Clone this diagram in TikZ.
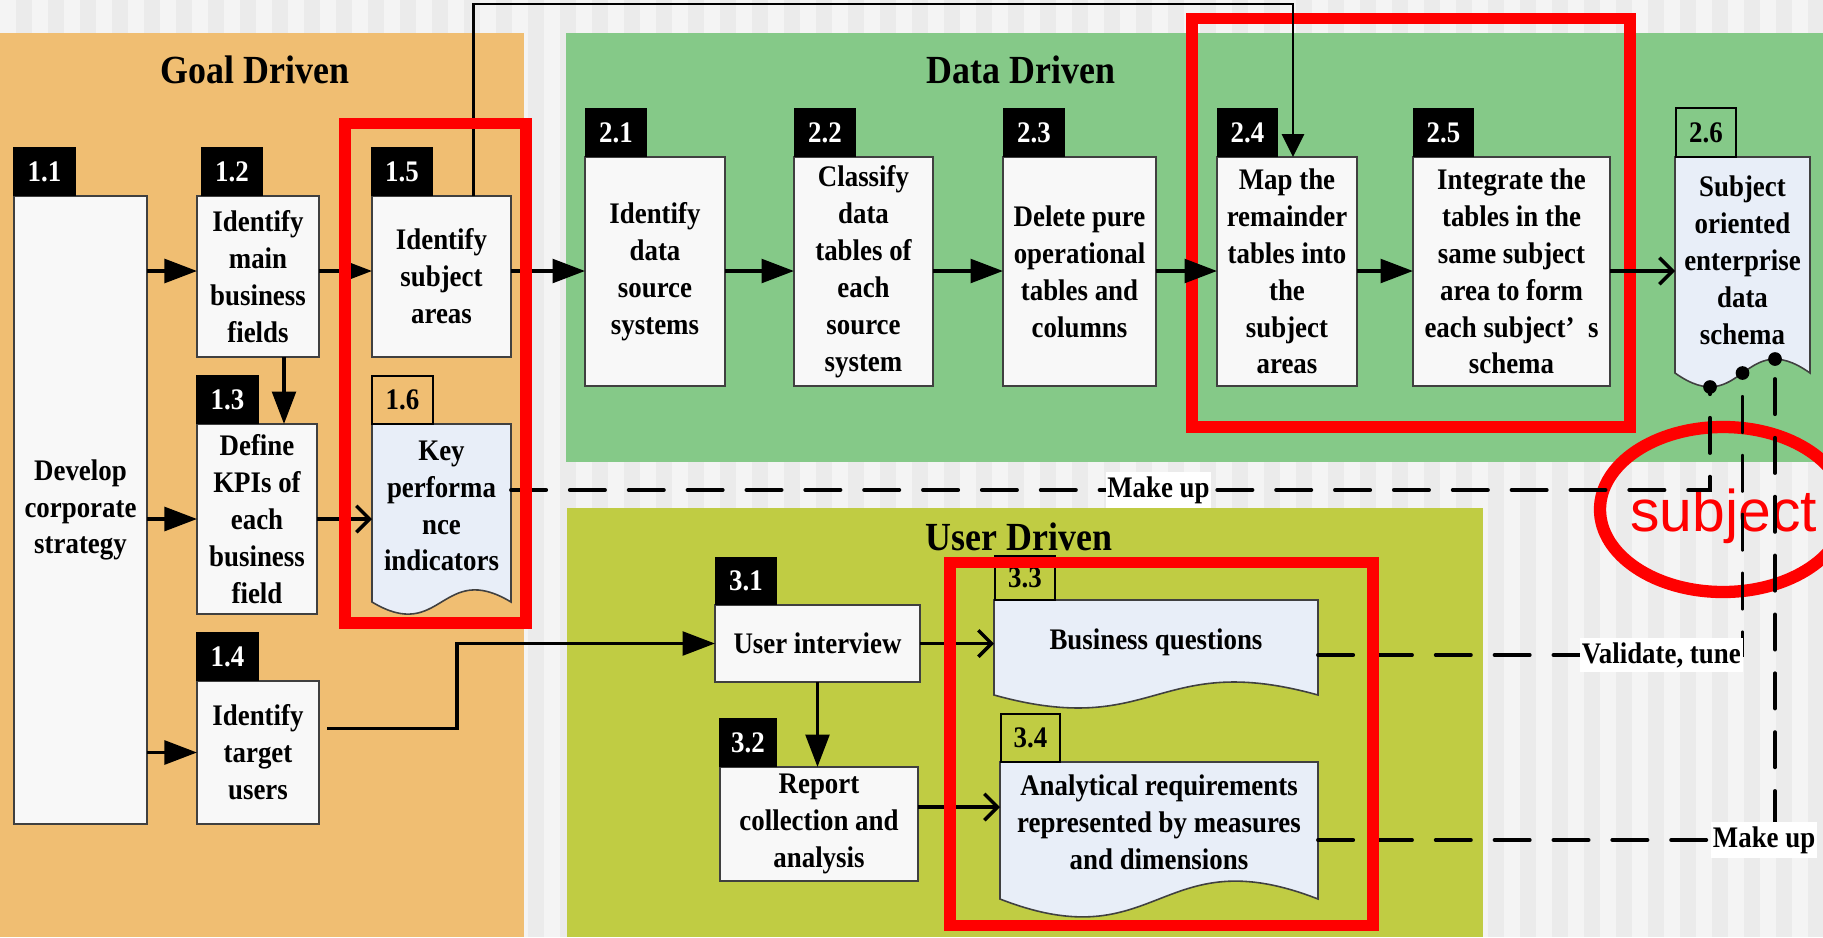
\documentclass[tikz,border=0pt]{standalone}
\usepackage{fontspec}
\setmainfont{Liberation Serif}[FakeStretch=0.9]
\newfontfamily\notefont{Liberation Sans}
\usetikzlibrary{arrows.meta,calc}
\pgfdeclarelayer{panels}
\pgfdeclarelayer{docs}
\pgfsetlayers{panels,docs,main}

\definecolor{goalbg}{HTML}{F0BE72}
\definecolor{databg}{HTML}{85C988}
\definecolor{userbg}{HTML}{C0CC43}
\definecolor{docbg}{HTML}{E8EEF8}
\definecolor{boxbg}{HTML}{F8F8F8}
\definecolor{stripeA}{HTML}{F4F4F4}
\definecolor{stripeB}{HTML}{EBEBEB}
\definecolor{markred}{HTML}{FF0000}

% document symbol: flat top, wavy bottom hanging #2 below the node, wave strength #3
\newcommand\docoutline[3]{%
  \begin{pgfonlayer}{docs}
    \filldraw[docfill] (#1.north west) -- (#1.north east) -- ($(#1.south east)+(0,#2)$)
      .. controls ($(#1.south)+(0,#2-#3)$) and ($(#1.south)+(0,#2+#3)$) ..
      ($(#1.south west)+(0,#2)$) -- cycle;
  \end{pgfonlayer}}

\tikzset{
  % node covering the pixel box left/top/right/bottom
  span/.style n args={4}{minimum width={(#3-#1)*0.02cm}, minimum height={(#4-#2)*0.02cm},
                         at={({(#1+#3)/2},{(#2+#4)/2})}, anchor=center},
  txt/.style={font=\fontsize{17}{21}\selectfont\bfseries, align=center, inner sep=0pt, outer sep=0pt},
  procbox/.style={txt, draw=black!75, line width=0.9pt, fill=boxbg},
  docnode/.style={txt},
  docfill/.style={draw=black!75, line width=0.9pt, fill=docbg},
  numtag/.style={txt, fill=black, text=white},
  numframe/.style={txt, draw=black, line width=1.3pt},
  paneltitle/.style={font=\fontsize{22.7}{27}\selectfont\bfseries, inner sep=0pt},
  flow/.style={line width=2pt, -{Triangle[length=18.5pt,width=13.5pt]}},
  flowopen/.style={line width=2pt, -{Straight Barb[length=7.5pt,width=15pt]}},
  thinflow/.style={line width=1.4pt, -{Triangle[length=13pt,width=12.5pt]}},
  dashline/.style={line width=2.2pt, line cap=round, dash pattern=on 20pt off 13.5pt},
  notelbl/.style={txt, fill=white, inner xsep=1pt, inner ysep=2.5pt},
  redmark/.style={draw=markred, line width=6.8pt},
}

\begin{document}
\begin{tikzpicture}[x=0.02cm,y=-0.02cm]
\useasboundingbox (0,0) rectangle (1823,937);

% ---- background and the three swim panels
\begin{pgfonlayer}{panels}
  \fill[stripeA] (0,0) rectangle (1823,937);
  \foreach \i in {0,...,56} \fill[stripeB] ({32*\i+16},0) rectangle ++(16,937);
  \fill[goalbg] (0,33) rectangle (524,937);
  \fill[databg] (566,33) rectangle (1823,462);
  \fill[userbg] (567,508) rectangle (1483,937);
\end{pgfonlayer}

\node[paneltitle] (tgoal) at (255,70) {Goal Driven};
\node[paneltitle] (tdata) at (1021,70) {Data Driven};
\node[paneltitle] (tuser) at (1019,537) {User Driven};

% ---- highlight ring
\draw[redmark, line width=7pt] (1723,509.5) ellipse [x radius=123, y radius=82.5];
\node[anchor=base west, inner sep=0pt, text=markred,
      font=\notefont\fontsize{33.5}{40}\selectfont] (subj) at (1630,531) {subject};

% ---- goal driven steps
\node[procbox, span={14}{196}{147}{824}] (b11) {Develop\\corporate\\strategy};
\node[procbox, span={197}{196}{319}{357}] (b12) {Identify\\main\\business\\fields};
\node[procbox, span={372}{196}{511}{357}] (b15) {Identify\\subject\\areas};
\node[procbox, span={197}{424}{317}{614}] (b13) {Define\\KPIs of\\each\\business\\field};
\node[procbox, span={197}{681}{319}{824}] (b14) {Identify\\target\\users};
\node[docnode, span={372}{424}{511}{588}] (b16) {Key\\performa\\nce\\indicators};
\docoutline{b16}{14}{42}

% ---- data driven steps
\node[procbox, span={585}{157}{725}{386}] (b21) {Identify\\data\\source\\systems};
\node[procbox, span={794}{157}{933}{386}] (b22) {Classify\\data\\tables of\\each\\source\\system};
\node[procbox, span={1003}{157}{1156}{386}] (b23) {Delete pure\\operational\\tables and\\columns};
\node[procbox, span={1217}{157}{1357}{386}] (b24) {Map the\\remainder\\tables into\\the\\subject\\areas};
\node[procbox, span={1413}{157}{1610}{386}] (b25) {Integrate the\\tables in the\\same subject\\area to form\\each subject’\hspace{0.45em}s\\schema};
\node[docnode, span={1675}{157}{1810}{363}] (b26) {Subject\\oriented\\enterprise\\data\\schema};
\docoutline{b26}{10}{48}

% ---- user driven steps
\node[procbox, span={715}{605}{920}{682}] (b31) {User interview};
\node[procbox, span={720}{767}{918}{881}] (b32) {Report\\collection and\\analysis};
\node[docnode, span={994}{600}{1318}{684}] (b33) {Business questions};
\docoutline{b33}{11}{45}
\node[docnode, span={1000}{762}{1318}{882}] (b34) {Analytical requirements\\represented by measures\\and dimensions};
\docoutline{b34}{17}{62}

% ---- step numbers
\node[numtag, span={13}{147}{76}{196}] (l11) {1.1};
\node[numtag, span={201}{147}{263}{196}] (l12) {1.2};
\node[numtag, span={371}{147}{433}{196}] (l15) {1.5};
\node[numtag, span={196}{375}{259}{424}] (l13) {1.3};
\node[numtag, span={196}{632}{259}{681}] (l14) {1.4};
\node[numframe, span={372}{376}{433}{424}] (l16) {1.6};
\node[numtag, span={585}{108}{647}{157}] (l21) {2.1};
\node[numtag, span={794}{108}{856}{157}] (l22) {2.2};
\node[numtag, span={1003}{108}{1065}{157}] (l23) {2.3};
\node[numtag, span={1217}{108}{1278}{157}] (l24) {2.4};
\node[numtag, span={1413}{108}{1474}{157}] (l25) {2.5};
\node[numframe, span={1676}{108}{1736}{157}] (l26) {2.6};
\node[numtag, span={715}{557}{777}{605}] (l31) {3.1};
\node[numtag, span={719}{718}{777}{767}] (l32) {3.2};
\node[numframe, span={995}{556}{1055}{600}] (l33) {3.3};
\node[numframe, span={1001}{714}{1060}{762}] (l34) {3.4};

% ---- helper points
\coordinate (row) at (0,271);
\coordinate (topline) at (0,4);
\coordinate (bend) at (457,0);
\coordinate (mkrow) at (0,490);
\coordinate (k12) at ($(b12.south)+(26,0)$);
\coordinate (k14) at ($(b14.east)+(8,-24)$);
\coordinate (k15) at ($(b15.north)+(32,0)$);
\coordinate (k24) at ($(b24.north)+(6,0)$);
\coordinate (k32) at ($(b32.east)+(0,-17)$);
\coordinate (vt) at ($(b33.east)+(0,13)$);
\coordinate (mu) at ($(b34.east)+(0,18)$);
\coordinate (d1) at ($(b26.south west)+(35,24)$);
\coordinate (d2) at ($(b26.south)+(0,10)$);
\coordinate (d3) at ($(b26.south east)+(-35,-4)$);

% ---- frame around steps 2.4 / 2.5 (under the connectors)
\draw[redmark] (1192,18.5) rectangle (1630,427);

% ---- solid connectors
\draw[flow] (b11.east |- row) -- (b12.west |- row);
\draw[flow] (b12.east |- row) -- (b15.west |- row);
\draw[flow] (b15.east |- row) -- (b21.west |- row);
\draw[flow] (b21.east |- row) -- (b22.west |- row);
\draw[flow] (b22.east |- row) -- (b23.west |- row);
\draw[flow] (b23.east |- row) -- (b24.west |- row);
\draw[flow] (b24.east |- row) -- (b25.west |- row);
\draw[flowopen] (b25.east |- row) -- (b26.west |- row);
\draw[flow] (b11.east |- b13.west) -- (b13.west);
\draw[flow] (b11.east |- b14.west) -- (b14.west);
\draw[flow] (k12) -- (k12 |- b13.north);
\draw[flowopen] (b13.east) -- (b13.east -| b16.west);
\draw[flow] (k14) -| (bend |- b31.west) -- (b31.west);
\draw[thinflow] (k15) -- (k15 |- topline) -- (k24 |- topline) -- (k24);
\draw[flow] (b31.south) -- (b31.south |- b32.north);
\draw[flowopen] (b31.east) -- (b31.east -| b33.west);
\draw[flowopen] (k32) -- (k32 -| b34.west);

% ---- dashed links into the subject schema
\draw[dashline] (b16.east |- mkrow) -- node[notelbl, pos=0.54] (mk1) {Make up} (d1 |- mkrow) -- (d1);
\draw[dashline] (vt) -- node[notelbl, pos=1, anchor=east] (vt1) {Validate, tune} (d2 |- vt) -- (d2);
\draw[dashline] (mu) -- node[notelbl, pos=1, xshift=-6.2pt] (mk2) {Make up} (d3 |- mu) -- (d3);
\fill (d1) circle [radius=3.9pt];
\fill (d2) circle [radius=3.9pt];
\fill (d3) circle [radius=3.9pt];

% ---- frames around 1.5 / 1.6 and 3.3 / 3.4
\draw[redmark] (345,123.5) rectangle (526,623);
\draw[redmark] (950,562.5) rectangle (1373,925.5);
\end{tikzpicture}
\end{document}
